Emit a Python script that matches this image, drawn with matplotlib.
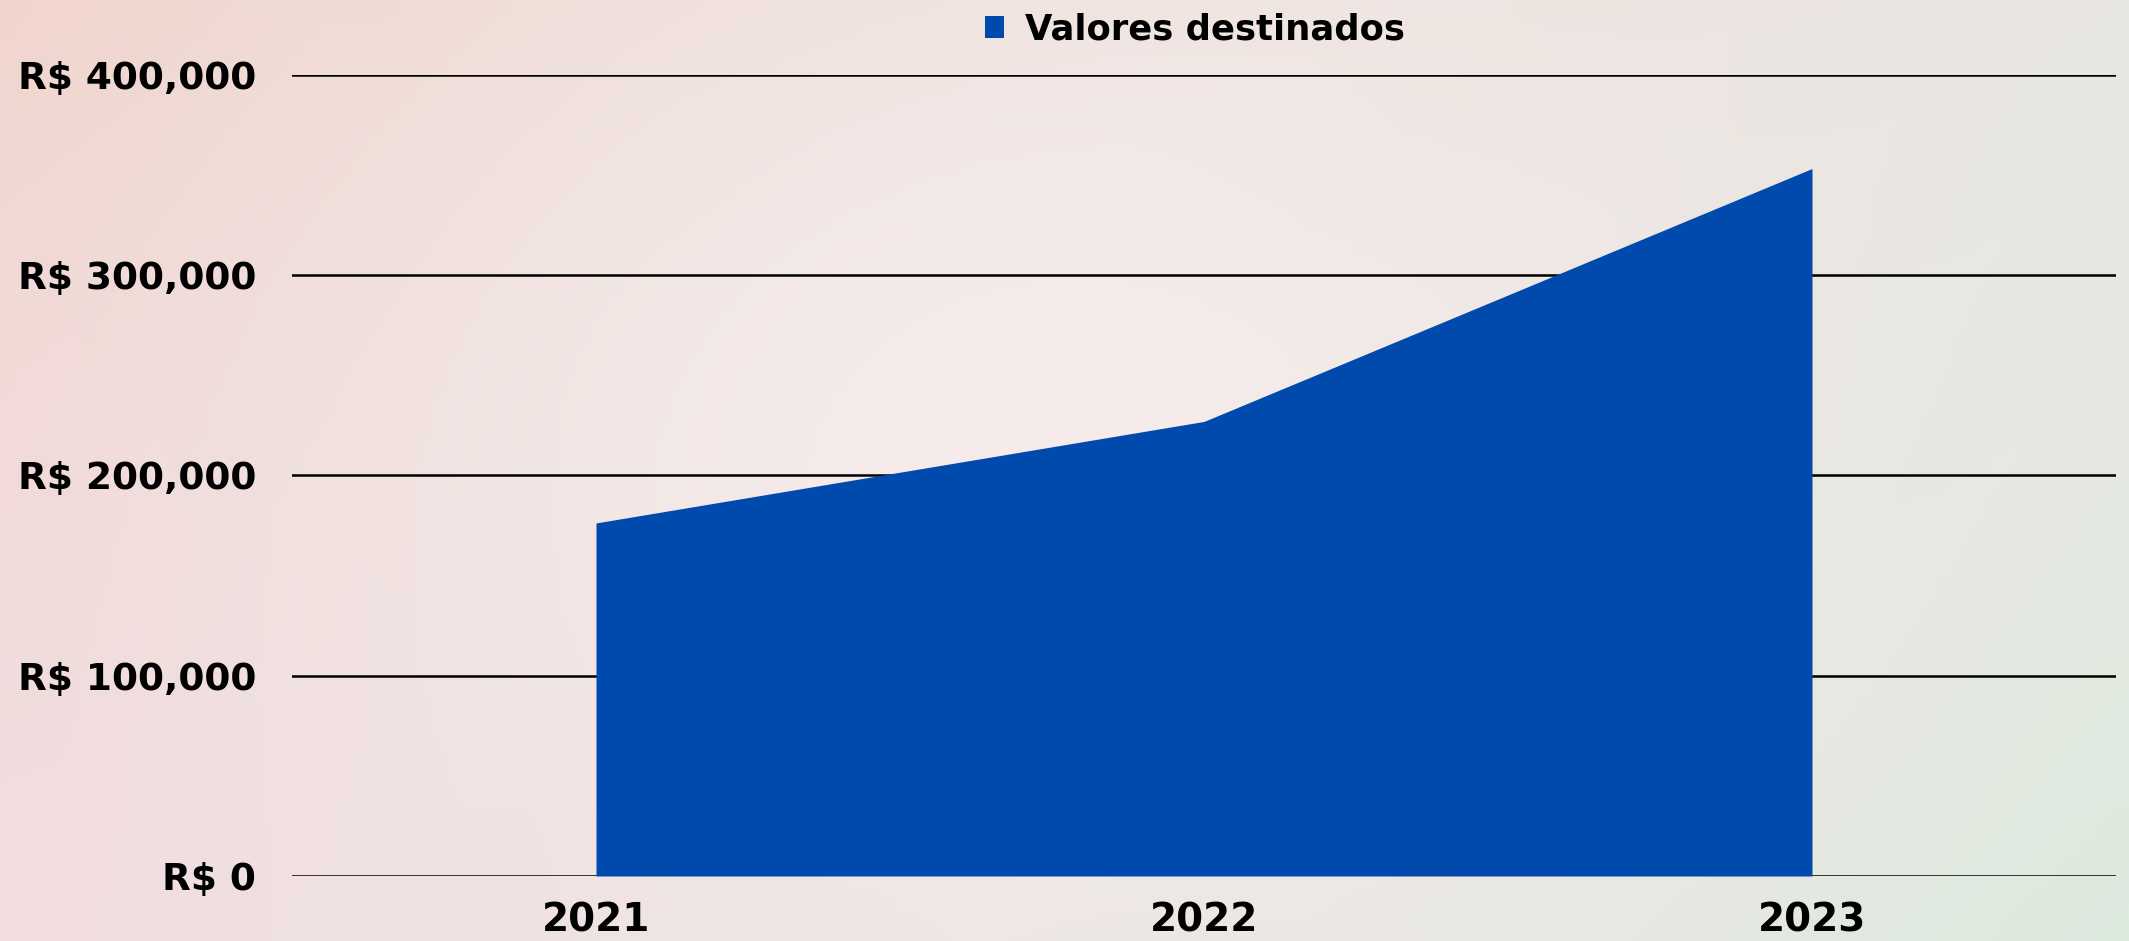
import matplotlib.pyplot as plt
import numpy as np
from matplotlib.ticker import FuncFormatter

# dados
anos = ['2021', '2022', '2023']
valores = [176300, 227000, 353300]
serie = 'Valores destinados'
azul = '#004aad'

plt.rcParams['font.family'] = ['DejaVu Sans']
plt.rcParams['font.weight'] = 'bold'

fig = plt.figure(figsize=(21.29, 9.41), dpi=100)

# fundo em gradiente (rosa -> claro -> verde)
bg = fig.add_axes([0, 0, 1, 1], zorder=-10)
h, w = 200, 400
yy, xx = np.mgrid[0:1:h * 1j, 0:1:w * 1j]
tl = np.array([240, 212, 204]) / 255
tr = np.array([232, 230, 226]) / 255
bl = np.array([242, 220, 224]) / 255
br = np.array([219, 234, 221]) / 255
mid = np.array([245, 236, 235]) / 255
img = (tl * ((1 - xx) * (1 - yy))[..., None] + tr * (xx * (1 - yy))[..., None]
       + bl * ((1 - xx) * yy)[..., None] + br * (xx * yy)[..., None])
peso = np.exp(-(((xx - 0.5) / 0.35) ** 2 + ((yy - 0.5) / 0.6) ** 2))[..., None]
img = img * (1 - peso) + mid * peso
bg.imshow(img, aspect='auto', extent=[0, 1, 0, 1])
bg.axis('off')

ax = fig.add_axes([292 / 2129, 1 - 876 / 941, (2116 - 292) / 2129, (876 - 75) / 941])
ax.patch.set_alpha(0)
x = np.arange(len(anos))
ax.fill_between(x, 0, valores, color=azul, lw=0, label=serie, zorder=3)

ax.set_xlim(-0.5, 2.5)
ax.set_ylim(0, 400000)
ax.set_yticks([0, 100000, 200000, 300000, 400000])
ax.yaxis.set_major_formatter(FuncFormatter(lambda v, p: 'R$ {:,.0f}'.format(v)))
ax.set_xticks(x)
ax.set_xticklabels(anos)
ax.grid(axis='y', color='black', lw=1.8, zorder=1)
ax.set_axisbelow(True)
for s in ax.spines.values():
    s.set_visible(False)
ax.tick_params(axis='y', length=0, pad=26, labelsize=27)
ax.tick_params(axis='x', length=0, pad=18, labelsize=28)
for t in ax.get_xticklabels() + ax.get_yticklabels():
    t.set_fontweight('bold')

leg = ax.legend(loc='lower center', bbox_to_anchor=(0.495, 1.0), frameon=False,
                handlelength=0.55, handleheight=0.55, handletextpad=0.6,
                borderaxespad=0.4, prop={'size': 25.5, 'weight': 'bold'})

fig.savefig('out.png', dpi=100)
